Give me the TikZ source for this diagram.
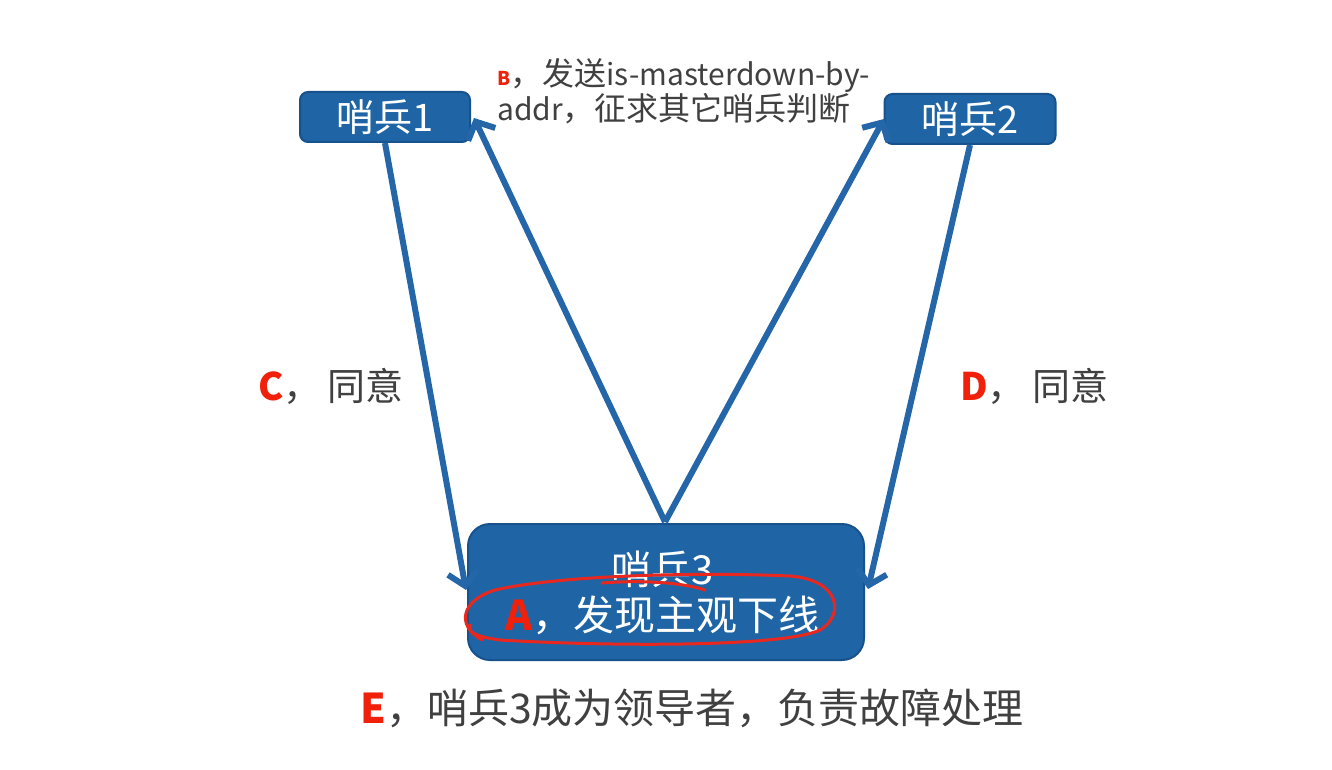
\documentclass[tikz,border=0pt]{standalone}
\usepackage{fontspec}
\setmainfont{Noto Sans CJK SC}
\usetikzlibrary{arrows.meta}
\definecolor{boxblue}{HTML}{1F65A6}
\definecolor{boxedge}{HTML}{17528C}
\definecolor{arrowblue}{HTML}{2466A8}
\definecolor{txtgray}{HTML}{404040}
\definecolor{lblred}{HTML}{F0200A}
\definecolor{penred}{HTML}{E8281E}
\tikzset{
  sentbox/.style={draw=boxedge, line width=2pt, fill=boxblue, rounded corners=8pt, text=white, inner sep=0pt},
  conn/.style={draw=arrowblue, line width=6pt, -{Straight Barb[length=14pt,width=30pt,line width=6pt]}},
  lbl/.style={text=txtgray, inner sep=0pt, anchor=west},
}
\begin{document}
\begin{tikzpicture}[x=1pt,y=-1pt]
\useasboundingbox (0,0) rectangle (1332,770);
\fill[white] (0,0) rectangle (1332,770);
% boxes
\node[sentbox, minimum width=170pt, minimum height=50pt, font=\fontsize{38}{40}\selectfont] (s1) at (385,117) {哨兵1};
\node[sentbox, minimum width=171pt, minimum height=50pt, font=\fontsize{38}{40}\selectfont] (s2) at (970,119) {哨兵2};
\node[sentbox, minimum width=396pt, minimum height=136pt, rounded corners=22pt] (s3) at (666,592) {};
\node[text=white, font=\fontsize{40}{42}\selectfont, inner sep=0pt] (s3t) at (663,569) {哨兵3};
\node[text=white, font=\fontsize{41}{44}\selectfont, inner sep=0pt, anchor=west] (s3a) at (505,615) {{\color{lblred}\bfseries A}，发现主观下线};
% arrow anchors
\coordinate (s1b) at (385,143);
\coordinate (s2b) at (970,145);
\coordinate (s3top) at (665,522);
\coordinate (s1r) at (474,118);
\coordinate (s2l) at (884,119);
\coordinate (s3l) at (466,590);
\coordinate (s3r) at (868,589);
\draw[conn] (s1b) -- (s3l);
\draw[conn] (s3top) -- (s1r);
\draw[conn] (s3top) -- (s2l);
\draw[conn] (s2b) -- (s3r);
% labels
\node[lbl, font=\fontsize{32}{32}\selectfont, align=left] (bl) at (497,91) {{\color{lblred}\fontsize{19}{20}\selectfont\bfseries B}，发送{\fontsize{30}{32}\selectfont is-masterdown-by-}\\{\fontsize{30}{32}\selectfont addr}，征求其它哨兵判断};
\node[lbl, font=\fontsize{38}{40}\selectfont] (cl) at (258,386) {{\color{lblred}\bfseries C}，\,同意};
\node[lbl, font=\fontsize{38}{40}\selectfont] (dl) at (960,386) {{\color{lblred}\bfseries D}，\,同意};
\node[lbl, font=\fontsize{41}{44}\selectfont] (el) at (360,708) {{\color{lblred}\bfseries E}，哨兵3成为领导者，负责故障处理};
% hand-drawn red loop
\draw[penred, line width=3pt, line cap=round, line join=round]
  (482,640) .. controls (455,625) and (462,600) .. (495,590)
  .. controls (560,575) and (700,572) .. (790,576)
  .. controls (840,580) and (845,615) .. (820,630)
  .. controls (780,648) and (600,646) .. (500,640)
  .. controls (470,636) and (468,630) .. (470,625);
\draw[penred, line width=3pt, line cap=round]
  (602,583) .. controls (640,580) and (680,582) .. (705,590);
\end{tikzpicture}
\end{document}
